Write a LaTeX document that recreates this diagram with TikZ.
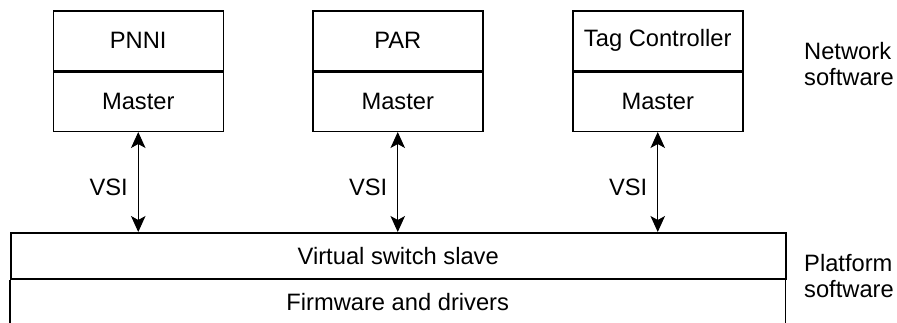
\documentclass[tikz,border=0pt]{standalone}
\usepackage{fontspec}
\setmainfont{Liberation Sans}
\usetikzlibrary{arrows.meta}
\begin{document}
\begin{tikzpicture}[x=1pt, y=-1pt,
  txt/.style={font=\fontsize{23.7}{26}\selectfont},
  cell/.style={txt, draw, line width=1.5pt, inner sep=0pt, anchor=north west,
    minimum width=170pt, minimum height=59.5pt},
  layer/.style={txt, inner sep=0pt, anchor=north west,
    minimum width=775pt, minimum height=46pt},
  headtip/.tip={Stealth[length=16pt, width=14.5pt, inset=4pt]},
  link/.style={line width=1.1pt, headtip-headtip},
  side/.style={txt, inner sep=0pt, anchor=base west}]
\useasboundingbox (0,0) rectangle (897,322);

% network software: three controllers, each over its VSI master
\node[cell] (pnni) at (52.5,10) {PNNI};
\node[cell] (m1) at (pnni.south west) {Master};
\node[cell] (par) at (312,10) {PAR};
\node[cell] (m2) at (par.south west) {Master};
\node[cell] (tag) at (572,10) {Tag Controller};
\node[cell] (m3) at (tag.south west) {Master};

% platform software layers
\node[layer, draw, line width=1.5pt] (vss) at (10,232) {Virtual switch slave};
\node[layer, minimum height=44pt] (fw) at (vss.south west) {Firmware and drivers};
\draw[line width=1.5pt] (fw.north west) -- (fw.south west)
  (fw.north east) -- (fw.south east);

% VSI links
\foreach \m in {m1,m2,m3}{
  \draw[link] (\m.south) -- (vss.north -| \m.south)
    node[txt, pos=0.55, left=10pt, inner sep=0pt] {VSI};
}

% side labels
\node[side] (net1) at (804,59) {Network};
\node[side] (net2) at (804,85) {software};
\node[side] (plat1) at (804,271) {Platform};
\node[side] (plat2) at (804,297) {software};
\end{tikzpicture}
\end{document}
